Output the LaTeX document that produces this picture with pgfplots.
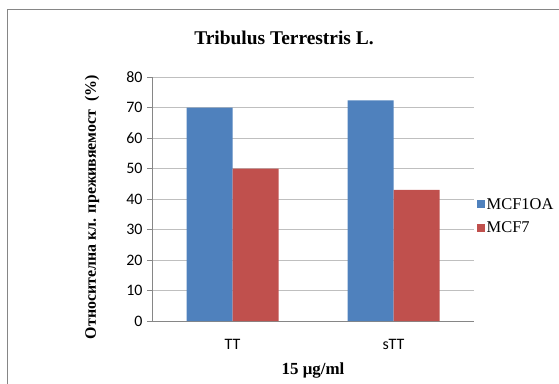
\documentclass[border=0pt]{standalone}
\usepackage{pgfplots}
\pgfplotsset{compat=1.18}
\usepackage{fontspec}
\setmainfont{Liberation Serif}
\newfontfamily\tickfont{Carlito}
\definecolor{cblue}{HTML}{4F81BD}
\definecolor{cred}{HTML}{C0504D}
\definecolor{cgrid}{HTML}{BFBFBF}
\definecolor{caxis}{HTML}{868686}
\begin{document}
\begin{tikzpicture}[x=1bp,y=1bp]
\useasboundingbox (0,0) rectangle (559,383);
\draw[caxis,line width=1bp] (7,-20) rectangle (600,373);
\node[font=\bfseries\fontsize{19.5}{22}\selectfont] at (284,345) {Tribulus Terrestris L.};
\node[font=\bfseries\fontsize{16}{18}\selectfont,rotate=90] at (92,176) {Относителна кл. преживяемост \ (\%)};
\node[font=\bfseries\fontsize{17}{19}\selectfont] at (313,13) {15 μg/ml};
\begin{axis}[
  at={(152bp,62bp)}, anchor=south west,
  width=322bp, height=244bp, scale only axis,
  ybar=0pt, bar width=46bp,
  xmin=-0.5, xmax=1.5, ymin=0, ymax=80,
  ytick={0,10,...,80},
  xtick={0,1}, xticklabels={TT,sTT},
  extra x ticks={-0.5,0.5,1.5},
  extra x tick labels={},
  extra x tick style={major tick length=5bp, tick align=outside, major tick style={draw=caxis, line width=0.8bp}, grid=none},
  x tick style={draw=none},
  y tick style={draw=caxis, line width=0.8bp},
  major tick length=5bp, tick align=outside,
  axis x line*=bottom, axis y line*=left,
  axis line style={draw=caxis, line width=0.8bp},
  ymajorgrids, grid style={draw=cgrid, line width=0.8bp},
  tick label style={font=\tickfont\fontsize{16}{18}\selectfont},
  /pgf/number format/assume math mode=true,
  xticklabel style={yshift=-10bp},
  yticklabel style={xshift=-1bp},
  legend style={at={(1.0,0.43)}, anchor=west, draw=none, fill=none,
    font=\fontsize{16.5}{18}\selectfont, row sep=7bp,
    nodes={inner xsep=1.5bp}},
  legend cell align=left,
  legend image code/.code={\fill[#1] (0bp,-4bp) rectangle (8bp,4bp);},
]
\addplot[fill=cblue, draw=none] coordinates {(0,70) (1,72.3)};
\addplot[fill=cred, draw=none] coordinates {(0,50) (1,43)};
\legend{MCF1OA,MCF7}
\end{axis}
\end{tikzpicture}
\end{document}
